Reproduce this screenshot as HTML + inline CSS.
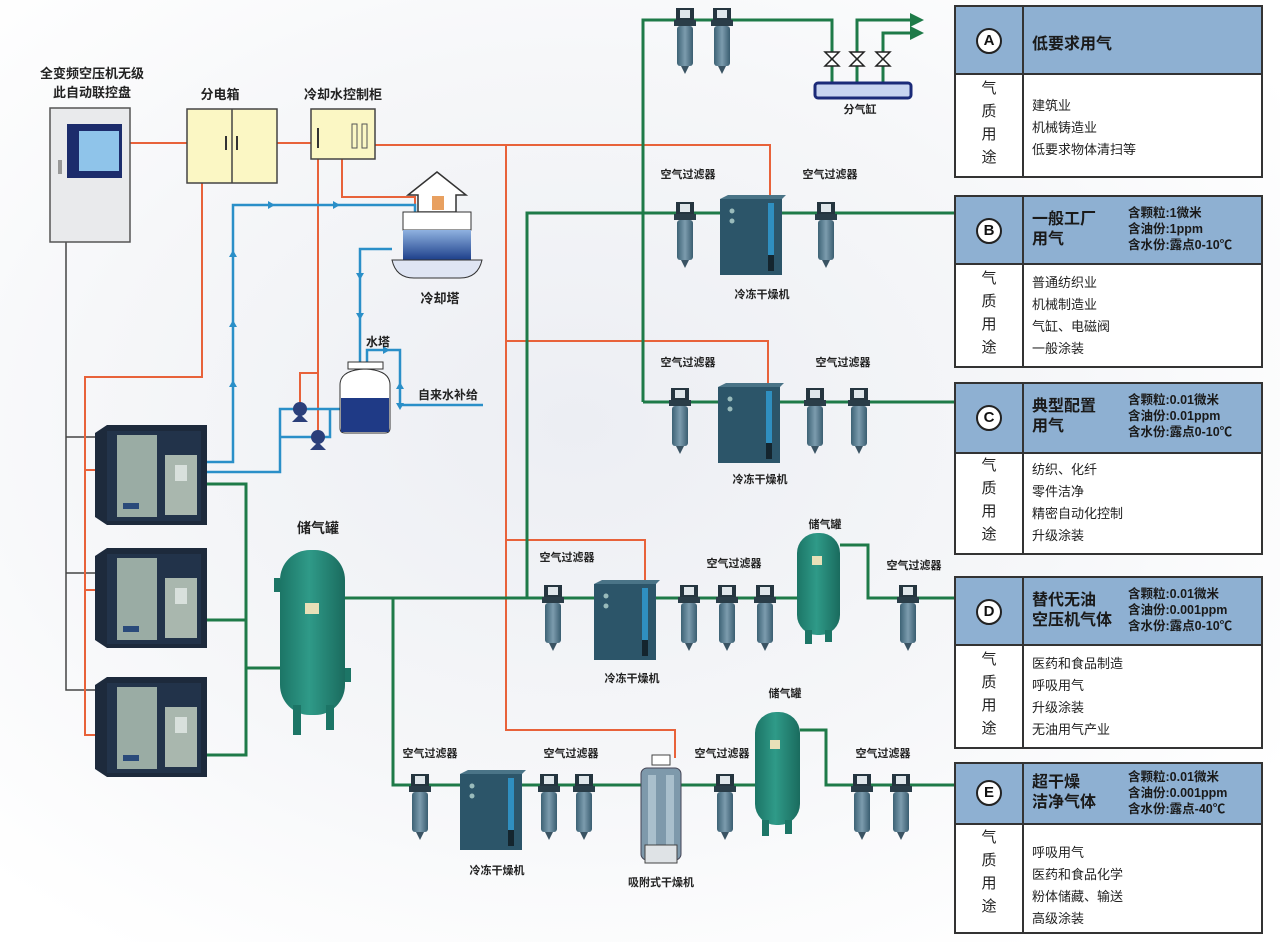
<!DOCTYPE html>
<html><head><meta charset="utf-8"><style>
html,body{margin:0;padding:0}
body{width:1280px;height:942px;position:relative;overflow:hidden;background:radial-gradient(ellipse at 45% 45%,#eceef3 0%,#f6f7f9 50%,#ffffff 85%);font-family:"Liberation Sans","Noto Sans CJK SC",sans-serif}
svg{position:absolute;left:0;top:0}
.box{position:absolute;left:954px;width:309px;border:2px solid #333;background:#fff;box-sizing:border-box}
.hd{position:absolute;left:0;top:0;right:0;background:#8eb0d2;border-bottom:2px solid #333}
.vl{position:absolute;left:66px;top:0;bottom:0;border-left:2px solid #333}
.circ{position:absolute;left:20px;width:22px;height:22px;border:2px solid #222;border-radius:50%;background:#fff;font-size:15px;font-weight:bold;text-align:center;line-height:22px;color:#111}
.ttl{position:absolute;left:76px;font-size:16px;font-weight:bold;color:#1a1a1a;line-height:20px}
.spec{position:absolute;left:172px;font-size:12.5px;font-weight:bold;color:#1a1a1a;line-height:16px;white-space:nowrap}
.side{position:absolute;left:0;width:66px;text-align:center;font-size:15px;color:#222;line-height:23px}
.items{position:absolute;left:76px;font-size:13px;color:#222;line-height:22px}
</style></head><body>
<svg width="1280" height="942" viewBox="0 0 1280 942">
<defs>
<linearGradient id="fg" x1="0" x2="1"><stop offset="0" stop-color="#3d6275"/><stop offset=".5" stop-color="#7c9cae"/><stop offset="1" stop-color="#3a5d70"/></linearGradient>
<linearGradient id="tg" x1="0" x2="1"><stop offset="0" stop-color="#1c7566"/><stop offset=".45" stop-color="#2f9a88"/><stop offset="1" stop-color="#1a6b5e"/></linearGradient>
<linearGradient id="wg" x1="0" y1="0" x2="0" y2="1"><stop offset="0" stop-color="#8fb2e0"/><stop offset="1" stop-color="#1d3f8a"/></linearGradient>
<g id="flt"><rect x="-9" y="0" width="18" height="14" fill="#25353f"/><rect x="-5" y="2" width="10" height="8" fill="#dfe6ea"/><rect x="-11" y="12" width="22" height="6" fill="#2a3d48"/><rect x="-8" y="18" width="16" height="40" rx="3" fill="url(#fg)"/><path d="M-4 58 L0 66 L4 58Z" fill="#3a5363"/></g>
<g id="dry"><rect x="0" y="4" width="62" height="76" fill="#2c5569"/><path d="M0 4 L8 0 L66 0 L62 4Z" fill="#4a7487"/><rect x="48" y="8" width="6" height="52" fill="#2f8fc0"/><rect x="48" y="60" width="6" height="16" fill="#14252e"/><circle cx="12" cy="16" r="2.5" fill="#9bb"/><circle cx="12" cy="26" r="2.5" fill="#9bb"/></g>
<g id="comp"><path d="M0 8 L12 0 L112 0 L112 100 L12 100 L0 92Z" fill="#1d2a3c"/><rect x="12" y="6" width="94" height="90" fill="#22334a"/><rect x="22" y="10" width="40" height="82" fill="#9aaca4"/><rect x="70" y="30" width="32" height="60" fill="#a9b7ae"/><rect x="80" y="40" width="12" height="16" fill="#d8e0dc"/><rect x="28" y="78" width="16" height="6" fill="#2a4a7a"/></g>
</defs>
<g stroke="#444" stroke-width="1.5" fill="none"><path d="M66 242 V690 H97 M66 437 H97 M66 573 H97"/></g>
<g stroke="#e8623a" stroke-width="2" fill="none">
<path d="M130 143 H187 M277 143 H311 M375 145 H770 V195"/>
<path d="M202 183 V377 H85 V735 H97 M85 470 H97 M85 590 H97"/>
<path d="M318 159 V432 M342 159 V197 H415 V212 M300 409 V373 H318"/>
<path d="M506 145 V730 H675 V758 M506 341 H768 V383 M506 540 H645 V580"/>
</g>
<g stroke="#2a8fc8" stroke-width="2.5" fill="none">
<path d="M207 462 H233 V205 H415 V225"/>
<path d="M207 472 H280 V409 H340 M280 437 H330 V409"/>
<path d="M392 249 H360 V375"/>
<path d="M483 405 H400 V350 H367 V375"/>
</g>
<g fill="#2a8fc8"><path d="M233 250 l-4 7 h8z M233 320 l-4 7 h8z M233 380 l-4 7 h8z M268 201 l7 4 -7 4z M333 201 l7 4 -7 4z M360 280 l-4 -7 h8z M360 320 l-4 -7 h8z M400 382 l-4 7 h8z M400 410 l-4 -7 h8z M390 350 l-7 4 0 -8z"/></g>
<g stroke="#1e7a48" stroke-width="3" fill="none">
<path d="M207 484 H246 V755 H207 M207 620 H246 M246 668 H280"/>
<path d="M345 598 H800 M840 545 H868 V598 H954"/>
<path d="M393 598 V785 H755 M800 730 H826 V785 H954"/>
<path d="M527 598 V213 H954"/>
<path d="M643 402 V20 H832 V90 M857 90 V20 H912 M883 90 V33 H912 M643 402 H954"/>
</g>
<g fill="#1e7a48"><path d="M910 13 l14 7 -14 7z M910 26 l14 7 -14 7z"/></g>
<g fill="#fff" stroke="#222" stroke-width="1.5"><path d="M825 52 L839 52 L825 66 L839 66Z M850 52 L864 52 L850 66 L864 66Z M876 52 L890 52 L876 66 L890 66Z"/></g>
<rect x="815" y="83" width="96" height="15" rx="3" fill="#c8d4f0" stroke="#1b2a78" stroke-width="3"/>
<text x="860" y="113" font-size="11" text-anchor="middle" font-weight="bold" fill="#222">分气缸</text>
<rect x="50" y="108" width="80" height="134" fill="#e9eaec" stroke="#555" stroke-width="1.5"/>
<rect x="67" y="124" width="55" height="54" fill="#1c2c6c"/>
<rect x="79" y="131" width="40" height="40" fill="#8fc4ea"/>
<rect x="58" y="160" width="4" height="14" fill="#999"/>
<text x="92" y="78" font-size="13" text-anchor="middle" font-weight="bold" fill="#222">全变频空压机无级</text>
<text x="92" y="97" font-size="13" text-anchor="middle" font-weight="bold" fill="#222">此自动联控盘</text>
<rect x="187" y="109" width="90" height="74" fill="#fbf7c4" stroke="#444" stroke-width="1.5"/>
<line x1="232" y1="109" x2="232" y2="183" stroke="#444" stroke-width="1.5"/>
<path d="M226 136 v14 M237 136 v14" stroke="#333" stroke-width="2"/>
<text x="220" y="99" font-size="13" text-anchor="middle" font-weight="bold" fill="#222">分电箱</text>
<rect x="311" y="109" width="64" height="50" fill="#fbf7c4" stroke="#444" stroke-width="1.5"/>
<path d="M318 128 v20" stroke="#333" stroke-width="2"/>
<rect x="352" y="124" width="5" height="24" fill="none" stroke="#555"/><rect x="362" y="124" width="5" height="24" fill="none" stroke="#555"/>
<text x="343" y="99" font-size="13" text-anchor="middle" font-weight="bold" fill="#222">冷却水控制柜</text>
<path d="M437 172 L466 195 L456 195 L456 212 L418 212 L418 195 L408 195Z" fill="#fff" stroke="#333" stroke-width="1.5"/>
<rect x="432" y="196" width="12" height="14" fill="#e8a060"/>
<rect x="403" y="212" width="68" height="18" fill="#fff" stroke="#333"/>
<rect x="403" y="230" width="68" height="30" fill="url(#wg)"/>
<path d="M392 260 H482 Q478 278 460 278 H414 Q396 278 392 260Z" fill="#dfe5f3" stroke="#333"/>
<text x="440" y="303" font-size="13" text-anchor="middle" font-weight="bold" fill="#222">冷却塔</text>
<rect x="348" y="362" width="35" height="7" fill="#fff" stroke="#333"/>
<path d="M340 385 Q340 370 365 369 Q390 370 390 385 V428 Q390 433 385 433 H345 Q340 433 340 428Z" fill="#fff" stroke="#333"/>
<rect x="341" y="398" width="48" height="34" fill="#1f3a86"/>
<text x="378" y="346" font-size="12" text-anchor="middle" font-weight="bold" fill="#222">水塔</text>
<text x="448" y="399" font-size="12" text-anchor="middle" font-weight="bold" fill="#222">自来水补给</text>
<g fill="#2b3f7a"><circle cx="300" cy="409" r="7"/><path d="M292 422 h16 l-8 -8z"/><circle cx="318" cy="437" r="7"/><path d="M310 450 h16 l-8 -8z"/></g>
<use href="#comp" x="95" y="425"/><use href="#comp" x="95" y="548"/><use href="#comp" x="95" y="677"/>
<rect x="280" y="550" width="65" height="165" rx="30" fill="url(#tg)"/>
<rect x="274" y="578" width="6" height="14" fill="#1c7566"/><rect x="345" y="668" width="6" height="14" fill="#1c7566"/>
<rect x="293" y="705" width="8" height="30" fill="#1c7566"/><rect x="326" y="705" width="8" height="25" fill="#1c7566"/>
<rect x="305" y="603" width="14" height="11" fill="#e8e0b8"/>
<text x="318" y="533" font-size="14" text-anchor="middle" font-weight="bold" fill="#222">储气罐</text>
<rect x="797" y="533" width="43" height="102" rx="20" fill="url(#tg)"/><rect x="805" y="630" width="7" height="14" fill="#1c7566"/><rect x="825" y="630" width="7" height="12" fill="#1c7566"/><rect x="812" y="556" width="10" height="9" fill="#e8e0b8"/>
<text x="825" y="528" font-size="11" text-anchor="middle" font-weight="bold" fill="#222">储气罐</text>
<rect x="755" y="712" width="45" height="113" rx="21" fill="url(#tg)"/><rect x="762" y="820" width="7" height="16" fill="#1c7566"/><rect x="785" y="820" width="7" height="14" fill="#1c7566"/><rect x="770" y="740" width="10" height="9" fill="#e8e0b8"/>
<text x="785" y="697" font-size="11" text-anchor="middle" font-weight="bold" fill="#222">储气罐</text>
<use href="#dry" x="720" y="195"/><use href="#dry" x="718" y="383"/><use href="#dry" x="594" y="580"/><use href="#dry" x="460" y="770"/>
<rect x="641" y="768" width="40" height="92" rx="6" fill="#7e99ab" stroke="#445"/><rect x="648" y="775" width="8" height="70" fill="#a9bfcc"/><rect x="666" y="775" width="8" height="70" fill="#a9bfcc"/><rect x="645" y="845" width="32" height="18" fill="#dfe3e6" stroke="#444"/><rect x="652" y="755" width="18" height="10" fill="#fff" stroke="#444"/>
<use href="#flt" x="685" y="8"/><use href="#flt" x="722" y="8"/>
<use href="#flt" x="685" y="202"/><use href="#flt" x="826" y="202"/>
<use href="#flt" x="680" y="388"/><use href="#flt" x="815" y="388"/><use href="#flt" x="859" y="388"/>
<use href="#flt" x="553" y="585"/><use href="#flt" x="689" y="585"/><use href="#flt" x="727" y="585"/><use href="#flt" x="765" y="585"/><use href="#flt" x="908" y="585"/>
<use href="#flt" x="420" y="774"/><use href="#flt" x="549" y="774"/><use href="#flt" x="584" y="774"/><use href="#flt" x="725" y="774"/><use href="#flt" x="862" y="774"/><use href="#flt" x="901" y="774"/>
<g font-size="11" font-weight="bold" fill="#222" text-anchor="middle">
<text x="688" y="178">空气过滤器</text><text x="830" y="178">空气过滤器</text>
<text x="688" y="366">空气过滤器</text><text x="843" y="366">空气过滤器</text>
<text x="567" y="561">空气过滤器</text><text x="734" y="567">空气过滤器</text><text x="914" y="569">空气过滤器</text>
<text x="430" y="757">空气过滤器</text><text x="571" y="757">空气过滤器</text><text x="722" y="757">空气过滤器</text><text x="883" y="757">空气过滤器</text>
<text x="762" y="298">冷冻干燥机</text><text x="760" y="483">冷冻干燥机</text><text x="632" y="682">冷冻干燥机</text><text x="497" y="874">冷冻干燥机</text><text x="661" y="886">吸附式干燥机</text>
</g>
</svg>

<div class="box" style="top:5px;height:173px"><div class="hd" style="height:66px"></div><div class="vl"></div>
<div class="circ" style="top:21px">A</div><div class="ttl" style="top:28px">低要求用气</div>
<div class="side" style="top:70px">气<br>质<br>用<br>途</div><div class="items" style="top:88px">建筑业<br>机械铸造业<br>低要求物体清扫等</div></div>

<div class="box" style="top:195px;height:173px"><div class="hd" style="height:66px"></div><div class="vl"></div>
<div class="circ" style="top:21px">B</div><div class="ttl" style="top:13px">一般工厂<br>用气</div>
<div class="spec" style="top:8px">含颗粒:1微米<br>含油份:1ppm<br>含水份:露点0-10℃</div>
<div class="side" style="top:70px">气<br>质<br>用<br>途</div><div class="items" style="top:75px">普通纺织业<br>机械制造业<br>气缸、电磁阀<br>一般涂装</div></div>

<div class="box" style="top:382px;height:173px"><div class="hd" style="height:68px"></div><div class="vl"></div>
<div class="circ" style="top:21px">C</div><div class="ttl" style="top:13px">典型配置<br>用气</div>
<div class="spec" style="top:8px">含颗粒:0.01微米<br>含油份:0.01ppm<br>含水份:露点0-10℃</div>
<div class="side" style="top:70px">气<br>质<br>用<br>途</div><div class="items" style="top:75px">纺织、化纤<br>零件洁净<br>精密自动化控制<br>升级涂装</div></div>

<div class="box" style="top:576px;height:173px"><div class="hd" style="height:66px"></div><div class="vl"></div>
<div class="circ" style="top:21px">D</div><div class="ttl" style="top:13px">替代无油<br>空压机气体</div>
<div class="spec" style="top:8px">含颗粒:0.01微米<br>含油份:0.001ppm<br>含水份:露点0-10℃</div>
<div class="side" style="top:70px">气<br>质<br>用<br>途</div><div class="items" style="top:75px">医药和食品制造<br>呼吸用气<br>升级涂装<br>无油用气产业</div></div>

<div class="box" style="top:762px;height:172px"><div class="hd" style="height:59px"></div><div class="vl"></div>
<div class="circ" style="top:16px">E</div><div class="ttl" style="top:9px">超干燥<br>洁净气体</div>
<div class="spec" style="top:5px">含颗粒:0.01微米<br>含油份:0.001ppm<br>含水份:露点-40℃</div>
<div class="side" style="top:62px">气<br>质<br>用<br>途</div><div class="items" style="top:78px">呼吸用气<br>医药和食品化学<br>粉体储藏、输送<br>高级涂装</div></div>
</body></html>
